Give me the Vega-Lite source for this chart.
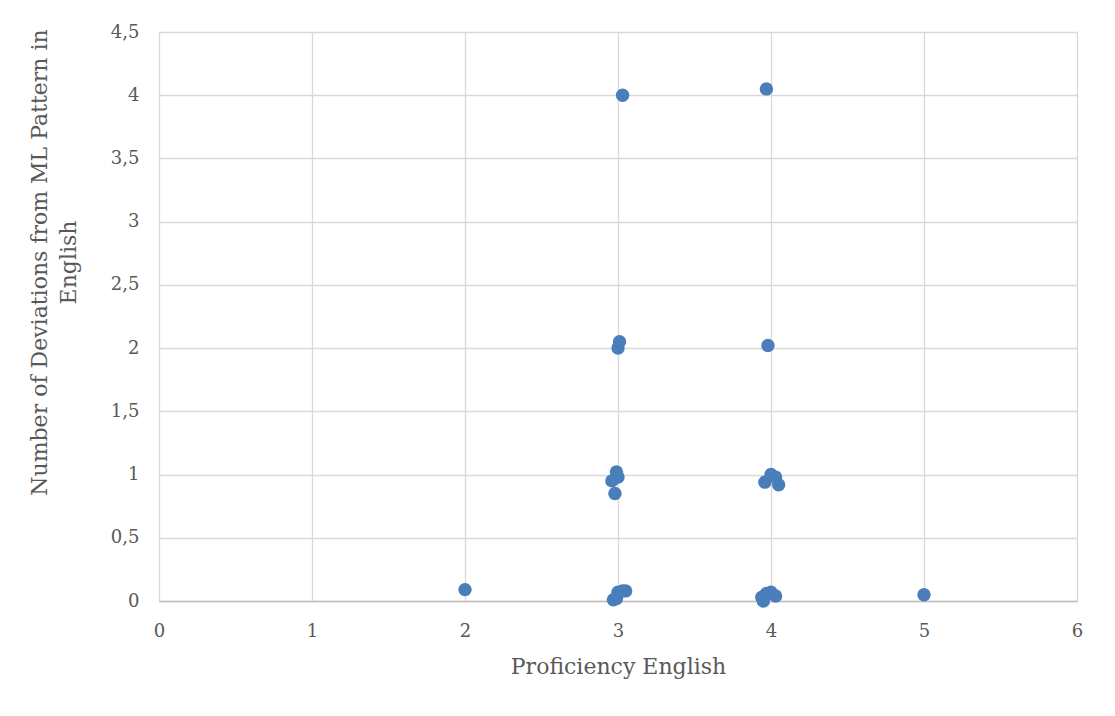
{
  "$schema": "https://vega.github.io/schema/vega-lite/v6.json",
  "width": 918,
  "height": 569,
  "autosize": {"type": "none"},
  "padding": {"left": 159, "top": 32, "right": 38, "bottom": 115},
  "background": "#ffffff",
  "config": {
    "view": {"stroke": null},
    "font": "DejaVu Serif"
  },
  "data": {
    "values": [
      {"proficiency": 2.0, "deviations": 0.09},
      {"proficiency": 3.03, "deviations": 4.0},
      {"proficiency": 3.97, "deviations": 4.05},
      {"proficiency": 3.01, "deviations": 2.05},
      {"proficiency": 3.0, "deviations": 2.0},
      {"proficiency": 3.98, "deviations": 2.02},
      {"proficiency": 2.99, "deviations": 1.02},
      {"proficiency": 3.0, "deviations": 0.98},
      {"proficiency": 2.96, "deviations": 0.95},
      {"proficiency": 2.98, "deviations": 0.85},
      {"proficiency": 4.0, "deviations": 1.0},
      {"proficiency": 4.03, "deviations": 0.98},
      {"proficiency": 3.96, "deviations": 0.94},
      {"proficiency": 4.05, "deviations": 0.92},
      {"proficiency": 2.97, "deviations": 0.01},
      {"proficiency": 2.99, "deviations": 0.02},
      {"proficiency": 3.0, "deviations": 0.07},
      {"proficiency": 3.03, "deviations": 0.08},
      {"proficiency": 3.05, "deviations": 0.08},
      {"proficiency": 3.95, "deviations": 0.0},
      {"proficiency": 3.94, "deviations": 0.03},
      {"proficiency": 3.97, "deviations": 0.06},
      {"proficiency": 4.0, "deviations": 0.07},
      {"proficiency": 4.03, "deviations": 0.04},
      {"proficiency": 5.0, "deviations": 0.05}
    ]
  },
  "mark": {"type": "circle", "size": 180, "opacity": 1, "color": "#4a7ebb"},
  "encoding": {
    "x": {
      "field": "proficiency",
      "type": "quantitative",
      "scale": {"domain": [0, 6], "nice": false, "zero": true},
      "axis": {
        "title": "Proficiency English",
        "values": [0, 1, 2, 3, 4, 5, 6],
        "labelFlush": false,
        "grid": true,
        "gridColor": "#d9d9d9",
        "gridWidth": 1.3,
        "domainColor": "#bfbfbf",
        "domainWidth": 1.5,
        "ticks": false,
        "labelPadding": 21,
        "labelFontSize": 18,
        "labelColor": "#595959",
        "titleFontSize": 22,
        "titleFontWeight": "normal",
        "titleColor": "#595959",
        "titlePadding": 16
      }
    },
    "y": {
      "field": "deviations",
      "type": "quantitative",
      "scale": {"domain": [0, 4.5], "nice": false},
      "axis": {
        "title": ["Number of Deviations from ML Pattern in", "English"],
        "values": [0, 0.5, 1, 1.5, 2, 2.5, 3, 3.5, 4, 4.5],
        "labelExpr": "replace(format(datum.value, '~g'), '.', ',')",
        "labelFlush": false,
        "grid": true,
        "gridColor": "#d9d9d9",
        "gridWidth": 1.3,
        "domain": false,
        "ticks": false,
        "labelPadding": 20,
        "labelFontSize": 18,
        "labelColor": "#595959",
        "titleFontSize": 22,
        "titleFontWeight": "normal",
        "titleColor": "#595959",
        "titleLineHeight": 29,
        "titleY": 230,
        "titlePadding": 30
      }
    }
  }
}
